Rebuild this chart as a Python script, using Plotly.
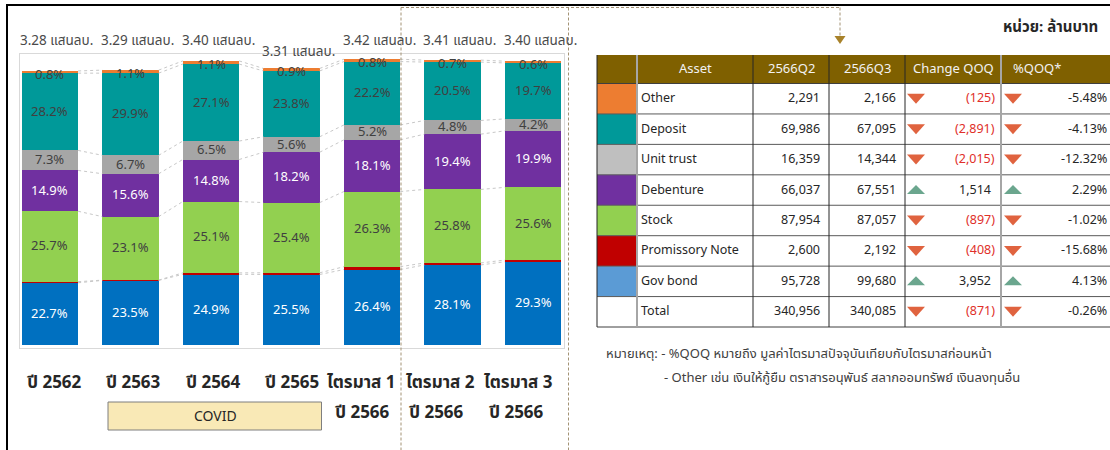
import plotly.graph_objects as go

W, H = 1110, 450

# ---------------- data ----------------
periods = ["ปี 2562", "ปี 2563", "ปี 2564", "ปี 2565", "ไตรมาส 1", "ไตรมาส 2", "ไตรมาส 3"]
period_years = ["", "", "", "", "ปี 2566", "ปี 2566", "ปี 2566"]
totals = [3.28, 3.29, 3.40, 3.31, 3.42, 3.41, 3.40]   # แสนลบ.

gov_bond   = [22.7, 23.5, 24.9, 25.5, 26.4, 28.1, 29.3]
promissory = [0.4, 0.1, 0.5, 0.6, 1.0, 0.7, 0.6]
stock      = [25.7, 23.1, 25.1, 25.4, 26.3, 25.8, 25.6]
debenture  = [14.9, 15.6, 14.8, 18.2, 18.1, 19.4, 19.9]
unit_trust = [7.3, 6.7, 6.5, 5.6, 5.2, 4.8, 4.2]
deposit    = [28.2, 29.9, 27.1, 23.8, 22.2, 20.5, 19.7]
other      = [0.8, 1.1, 1.1, 0.9, 0.8, 0.7, 0.6]

assets = ["Other", "Deposit", "Unit trust", "Debenture", "Stock", "Promissory Note", "Gov bond", "Total"]
q2_2566 = [2291, 69986, 16359, 66037, 87954, 2600, 95728, 340956]
q3_2566 = [2166, 67095, 14344, 67551, 87057, 2192, 99680, 340085]
change_qoq = [-125, -2891, -2015, 1514, -897, -408, 3952, -871]
pct_qoq = [-5.48, -4.13, -12.32, 2.29, -1.02, -15.68, 4.13, -0.26]

# ---------------- styles ----------------
series = [
    ("Gov bond", gov_bond, "#0070C0", "white"),
    ("Promissory Note", promissory, "#C00000", None),
    ("Stock", stock, "#92D050", "#404040"),
    ("Debenture", debenture, "#7030A0", "white"),
    ("Unit trust", unit_trust, "#A6A6A6", "#404040"),
    ("Deposit", deposit, "#009999", "#404040"),
    ("Other", other, "#ED7D31", "#404040"),
]
swatch = ["#ED7D31", "#009999", "#BFBFBF", "#7030A0", "#92D050", "#C00000", "#5B9BD5", "white"]
FONT = "Tahoma, 'Noto Sans Thai', Loma, Garuda, 'Noto Sans', sans-serif"

def X(px):
    return px / W

def Y(py):
    return 1 - py / H

fig = go.Figure()
n = len(periods)
xs = list(range(n))
BW = 0.70

# stacked bars (values in แสนลบ.)
seg_vals = []
for name, pcts, col, _ in series:
    vals = [p / 100 * t for p, t in zip(pcts, totals)]
    seg_vals.append(vals)
    fig.add_trace(go.Bar(x=xs, y=vals, name=name, width=BW, marker=dict(color=col, line_width=0),
                         showlegend=False, hoverinfo="skip"))

# cumulative boundaries
cum = []
run = [0.0] * n
for vals in seg_vals:
    run = [a + b for a, b in zip(run, vals)]
    cum.append(list(run))

# series connector lines
lx, ly = [], []
for level in cum:
    for i in range(n - 1):
        lx += [i + BW / 2, i + 1 - BW / 2, None]
        ly += [level[i], level[i + 1], None]
fig.add_trace(go.Scatter(x=lx, y=ly, mode="lines", line=dict(color="#C8C8C8", width=1, dash="dot"),
                         showlegend=False, hoverinfo="skip"))

annotations = []
# segment labels
for k, (name, pcts, col, tcol) in enumerate(series):
    if tcol is None:
        continue
    for i in range(n):
        if name == "Other":
            yv, ysh = cum[k][i], -4
        else:
            yv, ysh = cum[k][i] - seg_vals[k][i] / 2, 0
        annotations.append(dict(x=i, y=yv, xref="x", yref="y", text=f"{pcts[i]:.1f}%", showarrow=False,
                                yshift=ysh, font=dict(family=FONT, size=13, color=tcol),
                                xanchor="center", yanchor="middle"))

# total labels
total_label_py = [41, 41, 41, 52, 41, 41, 41]
for i in range(n):
    annotations.append(dict(x=i, y=Y(total_label_py[i]), xref="x", yref="paper", xshift=7,
                            text=f"{totals[i]:.2f} แสนลบ.", showarrow=False,
                            font=dict(family=FONT, size=13.5, color="#4A4A4A"),
                            xanchor="center", yanchor="middle"))

# category labels
label_px = [54, 133, 213, 292, 361, 440, 518]
year_px = [0, 0, 0, 0, 362, 436, 516]
for i in range(n):
    annotations.append(dict(x=X(label_px[i]), y=Y(383), xref="paper", yref="paper", text=f"<b>{periods[i]}</b>",
                            showarrow=False, font=dict(family=FONT, size=17, color="#262626"),
                            xanchor="center", yanchor="middle"))
    if period_years[i]:
        annotations.append(dict(x=X(year_px[i]), y=Y(413), xref="paper", yref="paper",
                                text=f"<b>{period_years[i]}</b>", showarrow=False,
                                font=dict(family=FONT, size=17, color="#262626"),
                                xanchor="center", yanchor="middle"))

shapes = []
# outer frame
shapes.append(dict(type="line", xref="paper", yref="paper", x0=X(6), x1=X(1110), y0=Y(5), y1=Y(5),
                   line=dict(color="black", width=2)))
shapes.append(dict(type="line", xref="paper", yref="paper", x0=X(7), x1=X(7), y0=Y(5), y1=Y(450),
                   line=dict(color="black", width=2)))

# COVID box
shapes.append(dict(type="rect", xref="paper", yref="paper", x0=X(108), x1=X(321.5), y0=Y(402), y1=Y(430),
                   fillcolor="#F9E9B6", line=dict(color="#7F7F7F", width=1)))
annotations.append(dict(x=X(215), y=Y(416), xref="paper", yref="paper", text="COVID", showarrow=False,
                        font=dict(family=FONT, size=14, color="#262626"), xanchor="center", yanchor="middle"))

# dashed highlight lines
dcol = "#A39274"
for x0, x1, y0, y1 in [(401, 840, 7.5, 7.5), (401, 401, 7.5, 450), (568.5, 568.5, 7.5, 450), (840, 840, 7.5, 36)]:
    shapes.append(dict(type="line", xref="paper", yref="paper", x0=X(x0), x1=X(x1), y0=Y(y0), y1=Y(y1),
                       line=dict(color=dcol, width=1, dash="3px,2px")))
shapes.append(dict(type="path", xref="paper", yref="paper",
                   path=f"M {X(834.5)},{Y(36)} L {X(845.5)},{Y(36)} L {X(840)},{Y(44)} Z",
                   fillcolor="#A8822A", line=dict(width=0)))

# ---------------- table ----------------
cols = [597, 637, 753, 829, 905, 1001, 1116]
hdr_top, hdr_bot = 55, 83.5
row_h = (327 - hdr_bot) / len(assets)
rows = [hdr_bot + r * row_h for r in range(len(assets) + 1)]

shapes.append(dict(type="rect", xref="paper", yref="paper", x0=X(cols[0]), x1=X(cols[-1]), y0=Y(hdr_top),
                   y1=Y(hdr_bot), fillcolor="#7F6000", line=dict(width=0)))
for r in range(len(assets)):
    shapes.append(dict(type="rect", xref="paper", yref="paper", x0=X(cols[0]), x1=X(cols[1]), y0=Y(rows[r]),
                       y1=Y(rows[r + 1]), fillcolor=swatch[r], line=dict(width=0)))
for r, yy in enumerate(rows):
    shapes.append(dict(type="line", xref="paper", yref="paper", x0=X(cols[0]), x1=X(cols[-1]), y0=Y(yy), y1=Y(yy),
                       line=dict(color="#3F3F3F" if r in (0, len(rows) - 1) else "#595959", width=1)))
vstyle = [("#262626", 1), ("#A6A6A6", 2), ("#262626", 1), ("#262626", 1), ("#262626", 1), ("#A6A6A6", 2)]
for c in range(6):
    colr, wd = vstyle[c]
    shapes.append(dict(type="line", xref="paper", yref="paper", x0=X(cols[c]), x1=X(cols[c]), y0=Y(hdr_top),
                       y1=Y(327), line=dict(color=colr, width=wd)))

headers = ["Asset", "2566Q2", "2566Q3", "Change QOQ", "%QOQ*"]
hdr_cx = [695, 791, 867, 953, 1037]
hy = (hdr_top + hdr_bot) / 2
for h, cx in zip(headers, hdr_cx):
    annotations.append(dict(x=X(cx), y=Y(hy), xref="paper", yref="paper", text=h, showarrow=False,
                            font=dict(family=FONT, size=13, color="#F2F2F2"), xanchor="center", yanchor="middle"))

tfont = dict(family=FONT, size=12.5, color="#262626")
for r in range(len(assets)):
    cy = (rows[r] + rows[r + 1]) / 2
    annotations.append(dict(x=X(639), y=Y(cy), xref="paper", yref="paper", text=assets[r], showarrow=False,
                            font=tfont, xanchor="left", yanchor="middle"))
    annotations.append(dict(x=X(822), y=Y(cy), xref="paper", yref="paper", text=f"{q2_2566[r]:,}",
                            showarrow=False, font=tfont, xanchor="right", yanchor="middle"))
    annotations.append(dict(x=X(898), y=Y(cy), xref="paper", yref="paper", text=f"{q3_2566[r]:,}",
                            showarrow=False, font=tfont, xanchor="right", yanchor="middle"))
    ch = change_qoq[r]
    if ch < 0:
        ctext, cfont, cxr = f"({abs(ch):,})", dict(family=FONT, size=12.5, color="#E0302A"), 997
    else:
        ctext, cfont, cxr = f"{ch:,}", tfont, 993
    annotations.append(dict(x=X(cxr), y=Y(cy), xref="paper", yref="paper", text=ctext, showarrow=False,
                            font=cfont, xanchor="right", yanchor="middle"))
    annotations.append(dict(x=X(1109), y=Y(cy), xref="paper", yref="paper", text=f"{pct_qoq[r]:.2f}%",
                            showarrow=False, font=tfont, xanchor="right", yanchor="middle"))
    # trend icons
    for tx in (916, 1013):
        if ch < 0:
            p = f"M {X(tx-9)},{Y(cy-5)} L {X(tx+9)},{Y(cy-5)} L {X(tx)},{Y(cy+5)} Z"
            fc = "#E0633F"
        else:
            p = f"M {X(tx-9)},{Y(cy+4)} L {X(tx+9)},{Y(cy+4)} L {X(tx)},{Y(cy-5)} Z"
            fc = "#6BA68E"
        shapes.append(dict(type="path", xref="paper", yref="paper", path=p, fillcolor=fc, line=dict(width=0)))

# unit & notes
annotations.append(dict(x=X(1100), y=Y(28), xref="paper", yref="paper", text="<b>หน่วย: ล้านบาท</b>",
                        showarrow=False, font=dict(family=FONT, size=15, color="#262626"),
                        xanchor="right", yanchor="middle"))
nfont = dict(family=FONT, size=13, color="#404040")
annotations.append(dict(x=X(604), y=Y(354), xref="paper", yref="paper",
                        text="หมายเหตุ: - %QOQ หมายถึง มูลค่าไตรมาสปัจจุบันเทียบกับไตรมาสก่อนหน้า",
                        showarrow=False, font=nfont, xanchor="left", yanchor="middle"))
annotations.append(dict(x=X(662), y=Y(378), xref="paper", yref="paper",
                        text="- Other เช่น เงินให้กู้ยืม ตราสารอนุพันธ์ สลากออมทรัพย์ เงินลงทุนอื่น",
                        showarrow=False, font=nfont, xanchor="left", yanchor="middle"))

# ---------------- layout ----------------
px_per_unit = 83.55
y_top = (345 - 54) / px_per_unit
y_bot = -(347.5 - 345) / px_per_unit
fig.update_layout(
    width=W, height=H, margin=dict(l=0, r=0, t=0, b=0),
    paper_bgcolor="white", plot_bgcolor="white",
    barmode="stack", bargap=0,
    xaxis=dict(domain=[X(20), X(563.7)], range=[-0.372, 6.38], showticklabels=False, showgrid=False,
               zeroline=False, showline=True, mirror=True, linecolor="#D9D9D9", linewidth=1, ticks=""),
    yaxis=dict(domain=[Y(347.5), Y(54)], range=[y_bot, y_top], showticklabels=False, showgrid=False,
               zeroline=False, showline=True, mirror=True, linecolor="#D9D9D9", linewidth=1, ticks=""),
    annotations=annotations, shapes=shapes,
    font=dict(family=FONT),
)

fig.write_html("out.html")
